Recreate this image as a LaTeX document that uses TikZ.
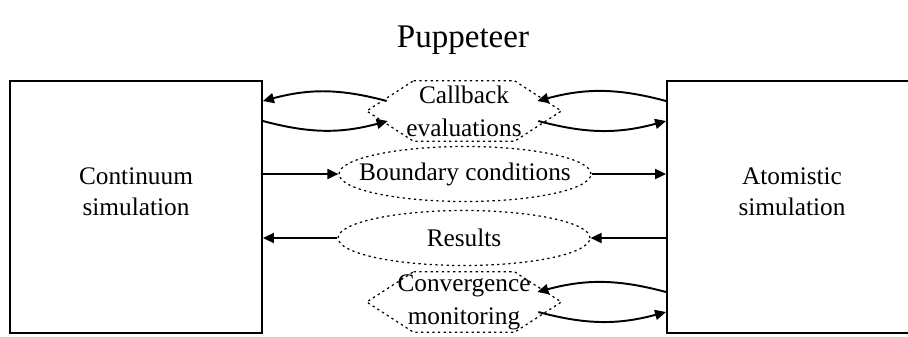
\documentclass[tikz,border=0pt]{standalone}
\usepackage{fontspec}
\setmainfont{Liberation Serif}
\usepackage{tikz}
\usetikzlibrary{arrows.meta,calc,shapes.geometric}
\tikzset{
  simbox/.style={
    rectangle, draw, line width=1.1pt,
    minimum width=5.04cm, minimum height=5.04cm
  },
  simtext/.style={
    align=center, font=\fontsize{14.4}{17.8}\selectfont
  },
  hexbox/.style={
    rectangle, inner sep=0pt, minimum width=3.88cm, minimum height=1.2cm,
    align=center, font=\fontsize{14.4}{18.8}\selectfont
  },
  ovalbox/.style={
    ellipse, draw, dotline, inner sep=0pt,
    minimum width=5.04cm, minimum height=1.1cm,
    font=\fontsize{14.4}{17.8}\selectfont
  },
  dotline/.style={line width=0.7pt, dash pattern=on 1.3pt off 1.9pt},
  flow/.style={-{Triangle[length=0.22cm,width=0.2cm]}, line width=1.1pt}
}
\newcommand{\hexframe}[1]{%
  \draw[dotline] ([xshift=0.94cm]#1.north west) -- ([xshift=-0.94cm]#1.north east)
    -- (#1.east) -- ([xshift=-0.94cm]#1.south east)
    -- ([xshift=0.94cm]#1.south west) -- (#1.west) -- cycle;}

\begin{document}
\begin{tikzpicture}[x=0.02cm, y=-0.02cm]
  \useasboundingbox (0,0) rectangle (908,336);
  \node[font=\fontsize{18.8}{22}\selectfont] (title) at (463,40) {Puppeteer};
  % the two simulations
  \node[simbox] (cont) at (136,207) {};
  \node[simtext] (conttext) at (136,192) {Continuum\\simulation};
  \node[simbox] (atom) at (793,207) {};
  \node[simtext] (atomtext) at (792,192) {Atomistic\\simulation};
  % exchanged data
  \node[hexbox] (callback) at (464,111) {Callback\\evaluations};
  \node[ovalbox] (bc) at (465,174) {\makebox[0pt]{Boundary conditions}};
  \node[ovalbox] (res) at (464,238) {\makebox[0pt]{Results}};
  \node[hexbox] (conv) at (464,302) {Convergence\\monitoring};
  \hexframe{callback}
  \hexframe{conv}
  % connectors
  \draw[flow] ($(callback.west)+(20,-10)$) to[bend right=15] ($(cont.east)+(0,-106)$);
  \draw[flow] ($(cont.east)+(0,-86)$) to[bend right=15] ($(callback.west)+(21,10)$);
  \draw[flow] ($(atom.west)+(0,-106)$) to[bend right=15] ($(callback.east)+(-24,-10)$);
  \draw[flow] ($(callback.east)+(-23,10)$) to[bend right=15] ($(atom.west)+(0,-86)$);
  \draw[flow] (cont.east |- bc.west) -- (bc.west);
  \draw[flow] (bc.east) -- (atom.west |- bc.east);
  \draw[flow] (atom.west |- res.east) -- (res.east);
  \draw[flow] (res.west) -- (cont.east |- res.west);
  \draw[flow] ($(atom.west)+(0,85)$) to[bend right=15] ($(conv.east)+(-24,-10)$);
  \draw[flow] ($(conv.east)+(-23,10)$) to[bend right=15] ($(atom.west)+(0,105)$);
\end{tikzpicture}
\end{document}
